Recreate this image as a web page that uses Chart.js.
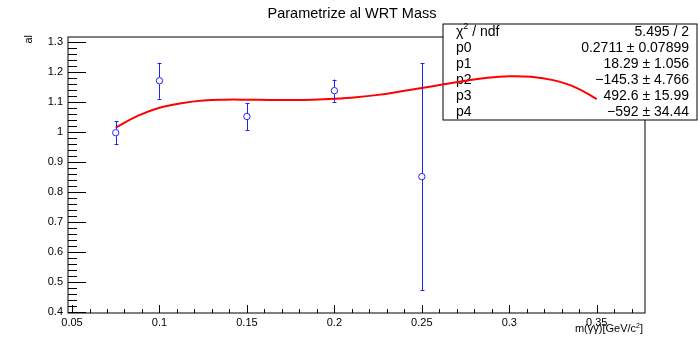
<!DOCTYPE html>
<html>
<head>
<meta charset="utf-8">
<script src="https://cdn.jsdelivr.net/npm/chart.js@4"></script>
<style>
  body { margin: 0; background: #fff; }
  canvas { display: block; }
</style>
</head>
<body>
<canvas id="chart" width="698" height="340"></canvas>
<script>
// al measured at each mass point, with symmetric errors
const massX = [0.075, 0.1, 0.15, 0.2, 0.25];
const alY = [0.998, 1.171, 1.052, 1.138, 0.852];
const alErr = [0.039, 0.060, 0.045, 0.037, 0.378];

// pol4 fit, sampled along the fit range
const fitX = [0.075, 0.0875, 0.1, 0.1125, 0.125, 0.1375, 0.15, 0.1625, 0.175, 0.1875, 0.2, 0.2125,
  0.225, 0.2375, 0.25, 0.2625, 0.275, 0.2875, 0.3, 0.3125, 0.325, 0.3375, 0.35];
const fitY = [1.015, 1.054, 1.081, 1.096, 1.105, 1.108, 1.108, 1.107, 1.107, 1.108, 1.111, 1.116,
  1.124, 1.135, 1.147, 1.159, 1.171, 1.181, 1.186, 1.184, 1.173, 1.150, 1.110];

const xTicks = [0.05, 0.1, 0.15, 0.2, 0.25, 0.3, 0.35];
const yTicks = [0.4, 0.5, 0.6, 0.7, 0.8, 0.9, 1.0, 1.1, 1.2, 1.3];

// fit statistics box
const statNames = ["p0", "p1", "p2", "p3", "p4"];
const statValues = ["0.2711", "18.29", "\u2212145.3", "492.6", "\u2212592"];
const statErrors = ["0.07899", "1.056", "4.766", "15.99", "34.44"];
const chi2Text = "5.495 / 2";

const FONT = "'Liberation Sans', Arial, sans-serif";
const BLUE = "#2020ff";

// text with a single superscript piece in the middle
function supText(ctx, before, sup, after, x, y, size, align) {
  ctx.font = `${size}px ${FONT}`;
  const w1 = ctx.measureText(before).width;
  const w3 = ctx.measureText(after).width;
  ctx.font = `${Math.round(size * 0.65)}px ${FONT}`;
  const w2 = ctx.measureText(sup).width;
  const total = w1 + w2 + w3;
  let x0 = align === "right" ? x - total : x;
  ctx.textAlign = "left";
  ctx.font = `${size}px ${FONT}`;
  ctx.fillText(before, x0, y);
  ctx.font = `${Math.round(size * 0.65)}px ${FONT}`;
  ctx.fillText(sup, x0 + w1, y - size * 0.38);
  ctx.font = `${size}px ${FONT}`;
  ctx.fillText(after, x0 + w1 + w2, y);
}

// frame, inner tick marks and the stats box (under the curve)
const frameAndStats = {
  id: "frameAndStats",
  beforeDatasetsDraw(chart) {
    const { ctx, chartArea: a, scales: { x, y } } = chart;
    ctx.save();
    ctx.strokeStyle = "#000";
    ctx.lineWidth = 1;
    ctx.strokeRect(a.left, a.top, a.right - a.left, a.bottom - a.top);

    ctx.beginPath();
    for (let i = 0; i <= 50; i++) {
      const v = 0.4 + i * 0.02;
      if (v > y.max) break;
      const py = Math.round(y.getPixelForValue(v)) + 0.5;
      const len = i % 5 === 0 ? 18 : 9;
      ctx.moveTo(a.left, py);
      ctx.lineTo(a.left + len, py);
    }
    for (let i = 0; i <= 40; i++) {
      const v = 0.05 + i * 0.01;
      if (v > x.max) break;
      const px = Math.round(x.getPixelForValue(v)) + 0.5;
      const len = i % 5 === 0 ? 8 : 4;
      ctx.moveTo(px, a.bottom);
      ctx.lineTo(px, a.bottom - len);
    }
    ctx.stroke();

    // stats box
    const bx = 443, by = 24, bw = 254, rowH = 16;
    const rows = statNames.length + 1;
    ctx.fillStyle = "#fff";
    ctx.fillRect(bx, by, bw, rows * rowH);
    ctx.strokeRect(bx, by, bw, rows * rowH);
    ctx.fillStyle = "#000";
    ctx.textBaseline = "middle";
    const lx = bx + 13, rx = bx + bw - 8;
    supText(ctx, "\u03C7", "2", " / ndf", lx, by + rowH / 2, 14, "left");
    ctx.font = `14px ${FONT}`;
    ctx.textAlign = "right";
    ctx.fillText(chi2Text, rx, by + rowH / 2);
    statNames.forEach((n, i) => {
      const cy = by + rowH * (i + 1) + rowH / 2;
      ctx.textAlign = "left";
      ctx.fillText(n, lx, cy);
      ctx.textAlign = "right";
      ctx.fillText(`${statValues[i]} \u00B1 ${statErrors[i]}`, rx, cy);
    });
    ctx.restore();
  },
  afterDatasetsDraw(chart) {
    const { ctx, scales: { y } } = chart;
    const meta = chart.getDatasetMeta(1);
    ctx.save();
    ctx.strokeStyle = BLUE;
    ctx.lineWidth = 1;
    ctx.beginPath();
    meta.data.forEach((pt, i) => {
      const px = Math.round(pt.x) + 0.5;
      const top = y.getPixelForValue(alY[i] + alErr[i]);
      const bot = y.getPixelForValue(alY[i] - alErr[i]);
      const r = 3.5;
      ctx.moveTo(px, top); ctx.lineTo(px, pt.y - r);
      ctx.moveTo(px, pt.y + r); ctx.lineTo(px, bot);
      ctx.moveTo(px - 2, Math.round(top) + 0.5); ctx.lineTo(px + 2, Math.round(top) + 0.5);
      ctx.moveTo(px - 2, Math.round(bot) + 0.5); ctx.lineTo(px + 2, Math.round(bot) + 0.5);
    });
    ctx.stroke();
    ctx.restore();
  },
  afterDraw(chart) {
    const { ctx } = chart;
    ctx.save();
    ctx.fillStyle = "#000";
    ctx.textBaseline = "alphabetic";
    ctx.font = `14.5px ${FONT}`;
    ctx.textAlign = "center";
    ctx.fillText("Parametrize al WRT Mass", 352, 18);

    ctx.translate(32, 35);
    ctx.rotate(-Math.PI / 2);
    ctx.font = `11px ${FONT}`;
    ctx.textAlign = "right";
    ctx.fillText("al", 0, 0);
    ctx.restore();

    ctx.save();
    ctx.fillStyle = "#000";
    ctx.textBaseline = "alphabetic";
    supText(ctx, "m(\u03B3\u03B3)[GeV/c", "2", "]", 643, 332, 11, "right");
    ctx.restore();
  }
};

new Chart(document.getElementById("chart"), {
  type: "scatter",
  data: {
    datasets: [
      {
        type: "line",
        data: fitX.map((v, i) => ({ x: v, y: fitY[i] })),
        borderColor: "#ff0000",
        borderWidth: 2,
        pointRadius: 0,
        tension: 0.4,
        fill: false
      },
      {
        data: massX.map((v, i) => ({ x: v, y: alY[i] })),
        pointStyle: "circle",
        pointRadius: 3.2,
        pointBackgroundColor: "#fff",
        pointBorderColor: BLUE,
        pointBorderWidth: 1
      }
    ]
  },
  options: {
    responsive: false,
    animation: false,
    layout: { padding: { left: 0, top: 37, right: 53, bottom: 0 } },
    plugins: {
      legend: { display: false },
      tooltip: { enabled: false },
      title: { display: false }
    },
    scales: {
      x: {
        type: "linear",
        min: 0.0477,
        max: 0.3776,
        grid: { display: false, drawTicks: false },
        border: { display: false },
        afterFit: (s) => { s.height = 27; },
        afterBuildTicks: (s) => { s.ticks = xTicks.map((v) => ({ value: v })); },
        ticks: {
          padding: 3,
          color: "#000",
          autoSkip: false,
          maxRotation: 0,
          font: { family: FONT, size: 11 },
          callback: (v) => String(+Number(v).toFixed(3))
        }
      },
      y: {
        min: 0.398,
        max: 1.3166,
        grid: { display: false, drawTicks: false },
        border: { display: false },
        afterFit: (s) => { s.width = 68; },
        afterBuildTicks: (s) => { s.ticks = yTicks.map((v) => ({ value: v })); },
        ticks: {
          padding: 5,
          color: "#000",
          autoSkip: false,
          font: { family: FONT, size: 11 },
          callback: (v) => String(+Number(v).toFixed(2))
        }
      }
    }
  },
  plugins: [frameAndStats]
});
</script>
</body>
</html>
